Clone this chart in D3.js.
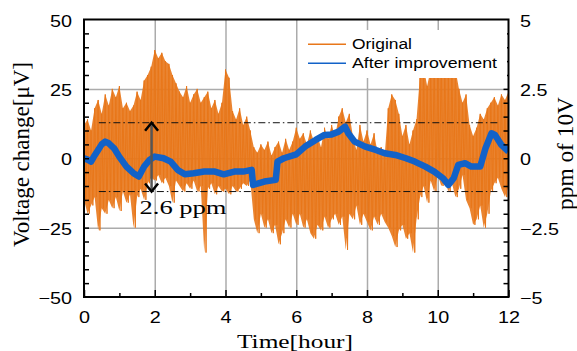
<!DOCTYPE html>
<html>
<head>
<meta charset="utf-8">
<script src="https://cdn.jsdelivr.net/npm/d3@7"></script>
<style>
  body { margin: 0; background: #fff; }
  svg { display: block; }
  .serif { font-family: "Liberation Serif", "Times New Roman", serif; }
  .sans { font-family: "Liberation Sans", Arial, sans-serif; }
</style>
</head>
<body>
<svg id="chart" width="577" height="351"></svg>
<script>
// envelope of the original record, one high/low pair every 0.1 hour (µV)
const originalHigh = [12, 14, 10, 18, 21, 16, 23, 19, 25, 22,
  26, 18, 20, 17, 19, 24, 21, 28, 30, 33,
  39, 36, 38, 35, 34, 30, 27, 24, 22, 26,
  20, 23, 25, 20, 22, 24, 18, 21, 16, 20,
  32, 29, 17, 14, 18, 12, 15, 10, 4, 2,
  5, 3, 6, 1, 4, 6, 2, 7, 3, 6,
  11, 7, 9, 5, 10, 6, 8, 4, 11, 7,
  12, 8, 15, 18, 13, 16, 8, 3, 12, 6,
  10, 5, 9, 2, 4, 1, 18, 23, 21, 16,
  8, 12, 5, 10, 14, 30, 33, 26, 32, 34,
  31, 35, 33, 30, 34, 32, 25, 20, 23, 12,
  8, 11, 16, 14, 18, 20, 22, 19, 23, 21, 24];
const originalLow = [-15, -20, -17, -14, -26, -18, -20, -15, -18, -14,
  -19, -12, -16, -13, -25, -14, -11, -15, -9, -7,
  -8, -6, -9, -7, -10, -16, -8, -10, -12, -9,
  -11, -8, -12, -10, -34, -11, -9, -13, -10, -12,
  -11, -13, -10, -12, -11, -9, -10, -8, -22, -27,
  -20, -25, -22, -27, -24, -31, -27, -22, -25, -20,
  -24, -20, -25, -22, -27, -29, -24, -26, -21, -25,
  -22, -20, -24, -21, -33, -20, -22, -17, -24, -20,
  -23, -26, -21, -24, -20, -23, -25, -28, -32, -26,
  -24, -29, -27, -34, -22, -14, -10, -16, -8, -12,
  -6, -10, -8, -12, -9, -14, -11, -6, -15, -18,
  -24, -22, -17, -25, -20, -12, -9, -7, -11, -14, -10];
const originalHours = d3.range(originalHigh.length).map(i => i / 10);

// after improvement (µV)
const improvedHours = [0, 0.1, 0.2, 0.3, 0.4, 0.5, 0.6, 0.7, 0.85, 1.0,
  1.2, 1.4, 1.55, 1.7, 1.85, 2.0, 2.25, 2.45, 2.65, 2.85,
  3.1, 3.4, 3.7, 3.95, 4.25, 4.5, 4.74, 4.78, 5.1, 5.42,
  5.47, 5.65, 6.0, 6.25, 6.55, 6.8, 7.0, 7.2, 7.38, 7.47,
  7.65, 7.95, 8.25, 8.5, 8.8, 9.1, 9.35, 9.65, 9.9, 10.15,
  10.3, 10.45, 10.58, 10.77, 10.95, 11.2, 11.35, 11.52, 11.62, 11.8, 12.0];
const improvedValues = [0, -0.5, -1.2, 1, 3, 5, 6, 5.4, 3.6, 0.5,
  -3, -5.4, -6.6, -3, -0.6, 0.6, 0, -1.2, -4.2, -5.8,
  -5.4, -4.8, -4.8, -5.8, -4.8, -4.8, -4.2, -9.6, -8.4, -7.8,
  -1.2, 0, 1.4, 4.2, 6.6, 8.4, 8.6, 9.6, 11.4, 9,
  6, 4.2, 3, 1.8, 1.2, 0, -1.2, -3, -4.8, -7.2,
  -9.6, -7.2, -2.4, -1.8, -3, -3, 3.6, 9, 8.4, 4.8, 2.4];

const bandLevels = [12.8, -12];
const bandSpan = [0.42, 11.75];
const arrowHour = 1.91;

const xLabels = [0, 2, 4, 6, 8, 10, 12];
const xMinor = [1, 3, 5, 7, 9, 11];
const xGrid = [2, 4, 6, 8, 10];
const leftLabels = [-50, -25, 0, 25, 50];
const yGrid = [-25, 0, 25];
const rightLabels = [-5, -2.5, 0, 2.5, 5];

const orange = "#E8771A";
const blue = "#1262C8";
const stretch = 1.2;

const margin = { left: 84, right: 68.5, top: 19.5, bottom: 54 };
const width = 577 - margin.left - margin.right;
const height = 351 - margin.top - margin.bottom;

const svg = d3.select("#chart");
const chart = svg.append("g")
  .attr("transform", `translate(${margin.left},${margin.top})`);

const x = d3.scaleLinear().domain([0, 12]).range([0, width]);
const y = d3.scaleLinear().domain([-50, 50]).range([height, 0]);
const y2 = d3.scaleLinear().domain([-5, 5]).range([height, 0]);

const fmt = d => d3.format("")(d).replace("-", "\u2212");

svg.append("defs").append("clipPath").attr("id", "plot")
  .append("rect").attr("width", width).attr("height", height);

// grid
chart.append("g")
  .attr("transform", `translate(0,${height})`)
  .call(d3.axisBottom(x).tickValues(xGrid).tickSize(-height).tickFormat(""))
  .call(g => g.select(".domain").remove())
  .selectAll("line").attr("stroke", "#ababab").attr("stroke-width", 1.5);
chart.append("g")
  .call(d3.axisLeft(y).tickValues(yGrid).tickSize(-width).tickFormat(""))
  .call(g => g.select(".domain").remove())
  .selectAll("line").attr("stroke", "#ababab").attr("stroke-width", 1.5);

const plot = chart.append("g").attr("clip-path", "url(#plot)");

// original: dense band between the readings plus the zigzag spikes
const originalArea = d3.area()
  .x((d, i) => x(originalHours[i]))
  .y0((d, i) => y(originalLow[i]))
  .y1(d => y(d));
plot.append("path")
  .attr("d", originalArea(originalHigh))
  .attr("fill", orange)
  .attr("fill-opacity", 0.9);

const originalPoints = [];
originalHours.forEach((h, i) => {
  originalPoints.push([h, originalHigh[i]]);
  originalPoints.push([h + 0.05, originalLow[i]]);
});
const line = d3.line().x(d => x(d[0])).y(d => y(d[1]));
plot.append("path")
  .attr("d", line(originalPoints))
  .attr("fill", "none")
  .attr("stroke", orange)
  .attr("stroke-width", 1);

plot.append("path")
  .attr("d", line(improvedHours.map((h, i) => [h, improvedValues[i]])))
  .attr("fill", "none")
  .attr("stroke", blue)
  .attr("stroke-width", 6.5)
  .attr("stroke-linejoin", "round");

// ±band dash-dot lines
chart.selectAll(".band")
  .data(bandLevels)
  .join("line")
  .attr("class", "band")
  .attr("x1", x(bandSpan[0])).attr("x2", x(bandSpan[1]))
  .attr("y1", d => y(d)).attr("y2", d => y(d))
  .attr("stroke", "#111")
  .attr("stroke-width", 1)
  .attr("stroke-dasharray", "7,3,1.5,3");

// double arrow
const ax = x(arrowHour);
chart.append("line")
  .attr("x1", ax).attr("x2", ax)
  .attr("y1", y(bandLevels[0]) + 2).attr("y2", y(bandLevels[1]) - 2)
  .attr("stroke", "#555").attr("stroke-width", 2.5);
chart.selectAll(".head")
  .data([[bandLevels[0], 1], [bandLevels[1], -1]])
  .join("path")
  .attr("class", "head")
  .attr("d", d => `M${ax - 6.5},${y(d[0]) + d[1] * 8}L${ax},${y(d[0])}L${ax + 6.5},${y(d[0]) + d[1] * 8}`)
  .attr("fill", "none").attr("stroke", "#000").attr("stroke-width", 2.5);

svg.append("text")
  .attr("class", "serif")
  .attr("x", 139.5).attr("y", 214)
  .attr("font-size", 19.5)
  .attr("textLength", 87).attr("lengthAdjust", "spacingAndGlyphs")
  .text("2.6 ppm");

// legend
const legend = svg.append("g");
legend.append("rect")
  .attr("x", 300).attr("y", 30).attr("width", 207).attr("height", 48)
  .attr("fill", "#fff");
const legendItems = [
  { name: "Original", color: orange, y: 44.3, len: 60 },
  { name: "After improvement", color: blue, y: 63.3, len: 145 }
];
legend.selectAll("line")
  .data(legendItems)
  .join("line")
  .attr("x1", 308).attr("x2", 346)
  .attr("y1", d => d.y).attr("y2", d => d.y)
  .attr("stroke", d => d.color).attr("stroke-width", 1.5);
legend.selectAll("text")
  .data(legendItems)
  .join("text")
  .attr("class", "sans")
  .attr("x", 352).attr("y", d => d.y + 4.5)
  .attr("font-size", 14)
  .attr("textLength", d => d.len).attr("lengthAdjust", "spacingAndGlyphs")
  .text(d => d.name);

// axes, inward ticks
const styleAxis = g => {
  g.select(".domain").remove();
  g.selectAll("line").attr("stroke", "#000").attr("stroke-width", 1.5);
  g.selectAll("text").attr("class", "sans").attr("font-size", 16.5).attr("fill", "#000");
};
chart.append("g")
  .attr("transform", `translate(0,${height})`)
  .call(d3.axisBottom(x).tickValues(xMinor).tickSize(-4).tickFormat(""))
  .call(styleAxis);
chart.append("g")
  .attr("transform", `translate(0,${height})`)
  .call(d3.axisBottom(x).tickValues(xLabels).tickSize(-7).tickPadding(14.6).tickFormat(fmt))
  .call(styleAxis)
  .selectAll("text").attr("transform", `scale(${stretch},1)`);

chart.append("g")
  .call(d3.axisLeft(y).tickValues(d3.range(-45, 50, 5)).tickSize(-5).tickFormat(""))
  .call(styleAxis);
chart.append("g")
  .call(d3.axisLeft(y).tickValues(leftLabels).tickSize(0).tickPadding(12).tickFormat(fmt))
  .call(styleAxis)
  .selectAll("text")
  .attr("x", -12 / stretch).attr("dy", "0.4em")
  .attr("transform", `scale(${stretch},1)`);

chart.append("g")
  .attr("transform", `translate(${width},0)`)
  .call(d3.axisRight(y2).tickValues(d3.range(-4.5, 5, 0.5)).tickSize(-5).tickFormat(""))
  .call(styleAxis);
chart.append("g")
  .attr("transform", `translate(${width},0)`)
  .call(d3.axisRight(y2).tickValues(rightLabels).tickSize(0).tickPadding(11.5).tickFormat(fmt))
  .call(styleAxis)
  .selectAll("text")
  .attr("x", 11.5 / stretch).attr("dy", "0.4em")
  .attr("transform", `scale(${stretch},1)`);

chart.append("rect")
  .attr("width", width).attr("height", height)
  .attr("fill", "none").attr("stroke", "#000").attr("stroke-width", 2);

// axis titles
svg.append("text")
  .attr("class", "serif")
  .attr("x", 295).attr("y", 348)
  .attr("text-anchor", "middle")
  .attr("font-size", 19.5)
  .attr("textLength", 116).attr("lengthAdjust", "spacingAndGlyphs")
  .text("Time[hour]");

svg.append("text")
  .attr("class", "serif")
  .attr("transform", `translate(29,154.5) scale(${stretch},1) rotate(-90)`)
  .attr("text-anchor", "middle")
  .attr("font-size", 20)
  .attr("textLength", 185).attr("lengthAdjust", "spacingAndGlyphs")
  .text("Voltage change[\u03bcV]");

svg.append("text")
  .attr("class", "serif")
  .attr("transform", `translate(573,153.5) scale(${stretch},1) rotate(-90)`)
  .attr("text-anchor", "middle")
  .attr("font-size", 20)
  .attr("textLength", 113).attr("lengthAdjust", "spacingAndGlyphs")
  .text("ppm of 10V");
</script>
</body>
</html>
